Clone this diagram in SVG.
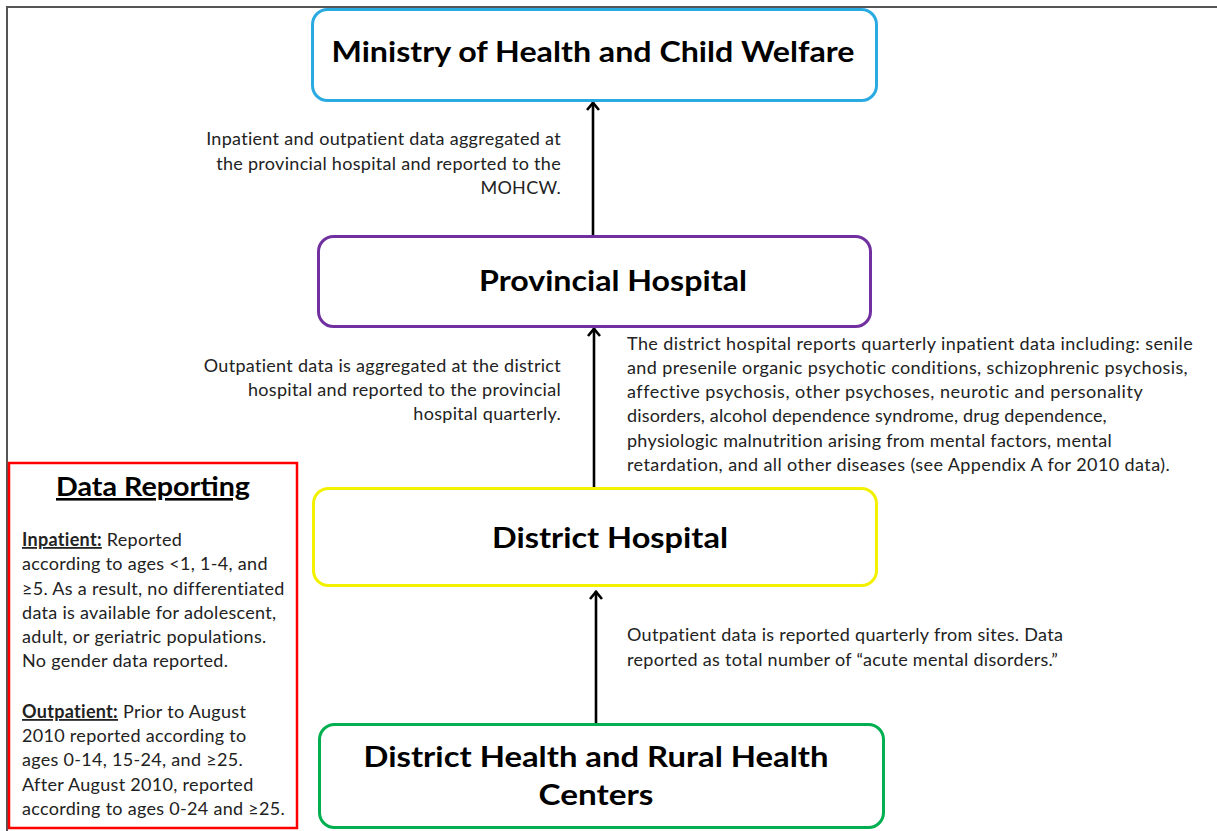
<svg xmlns="http://www.w3.org/2000/svg" width="1217" height="831" viewBox="0 0 1217 831">
<style>
.box{fill:#fff;stroke-width:3}
.ttl{font-family:Lato,"Open Sans","Liberation Sans",sans-serif;font-weight:bold;font-size:29px;fill:#000;text-anchor:middle}
.lbl{font-family:Lato,"Open Sans","Liberation Sans",sans-serif;font-size:18px;letter-spacing:0.3px;fill:#222}
.r{text-anchor:end}
.conn{stroke:#000;stroke-width:2.6;fill:none}
.b{font-weight:bold;text-decoration:underline}
</style>
<defs>
<marker id="ah" viewBox="-10 -8 12 16" refX="0" refY="0" markerWidth="12" markerHeight="16" markerUnits="userSpaceOnUse" orient="auto">
<path d="M-8,-6 L-0.8,0 L-8,6" fill="none" stroke="#000" stroke-width="2.6" stroke-linejoin="miter"/>
</marker>
</defs>
<rect width="1217" height="831" fill="#fff"/>
<path d="M7,831 V7 H1217" fill="none" stroke="#555" stroke-width="2"/>

<g id="connectors">
<line class="conn" x1="593" y1="235" x2="593" y2="102" marker-end="url(#ah)"/>
<line class="conn" x1="594" y1="487" x2="594" y2="328" marker-end="url(#ah)"/>
<line class="conn" x1="596" y1="723" x2="596" y2="591" marker-end="url(#ah)"/>
</g>

<g id="ministry">
<rect class="box" x="312.5" y="9.5" width="564" height="91" rx="15" stroke="#29abe2"/>
<text class="ttl" x="593" y="62" textLength="523" lengthAdjust="spacingAndGlyphs">Ministry of Health and Child Welfare</text>
</g>

<g id="provincial">
<rect class="box" x="318.5" y="236.5" width="552" height="90" rx="15" stroke="#7030a0"/>
<text class="ttl" x="613" y="291" textLength="268" lengthAdjust="spacingAndGlyphs">Provincial Hospital</text>
</g>

<g id="district">
<rect class="box" x="313.5" y="488.5" width="563" height="97" rx="15" stroke="#f2f200"/>
<text class="ttl" x="610" y="548" textLength="236" lengthAdjust="spacingAndGlyphs">District Hospital</text>
</g>

<g id="rural">
<rect class="box" x="319.5" y="724.5" width="564" height="103" rx="15" stroke="#00b050"/>
<text class="ttl" x="596" y="767" textLength="465" lengthAdjust="spacingAndGlyphs">District Health and Rural Health</text>
<text class="ttl" x="596" y="805" textLength="115" lengthAdjust="spacingAndGlyphs">Centers</text>
</g>

<g id="label-ministry">
<text class="lbl r" x="561" y="145">Inpatient and outpatient data aggregated at</text>
<text class="lbl r" x="561" y="170">the provincial hospital and reported to the</text>
<text class="lbl r" x="561" y="194">MOHCW.</text>
</g>

<g id="label-provincial">
<text class="lbl r" x="561" y="372">Outpatient data is aggregated at the district</text>
<text class="lbl r" x="561" y="396">hospital and reported to the provincial</text>
<text class="lbl r" x="561" y="420">hospital quarterly.</text>
</g>

<g id="label-inpatient">
<text class="lbl" x="627" y="350" textLength="566" lengthAdjust="spacing">The district hospital reports quarterly inpatient data including: senile</text>
<text class="lbl" x="627" y="374" textLength="561" lengthAdjust="spacing">and presenile organic psychotic conditions, schizophrenic psychosis,</text>
<text class="lbl" x="627" y="398" textLength="516" lengthAdjust="spacing">affective psychosis, other psychoses, neurotic and personality</text>
<text class="lbl" x="627" y="422" textLength="480" lengthAdjust="spacing">disorders, alcohol dependence syndrome, drug dependence,</text>
<text class="lbl" x="627" y="447" textLength="485" lengthAdjust="spacing">physiologic malnutrition arising from mental factors, mental</text>
<text class="lbl" x="627" y="471" textLength="543" lengthAdjust="spacing">retardation, and all other diseases (see Appendix A for 2010 data).</text>
</g>

<g id="label-rural">
<text class="lbl" x="627" y="641">Outpatient data is reported quarterly from sites. Data</text>
<text class="lbl" x="627" y="666">reported as total number of “acute mental disorders.”</text>
</g>

<g id="data-reporting">
<rect x="9" y="463" width="288" height="365" fill="#fff" stroke="#ff0000" stroke-width="2.5"/>
<text x="153" y="496" font-family="Lato,'Open Sans','Liberation Sans',sans-serif" font-size="26" font-weight="bold" text-anchor="middle" text-decoration="underline" fill="#000" textLength="194" lengthAdjust="spacingAndGlyphs">Data Reporting</text>
<text class="lbl" x="22" y="546"><tspan class="b">Inpatient:</tspan> Reported</text>
<text class="lbl" x="22" y="570">according to ages &lt;1, 1-4, and</text>
<text class="lbl" x="22" y="595">≥5. As a result, no differentiated</text>
<text class="lbl" x="22" y="619">data is available for adolescent,</text>
<text class="lbl" x="22" y="643">adult, or geriatric populations.</text>
<text class="lbl" x="22" y="667">No gender data reported.</text>
<text class="lbl" x="22" y="718"><tspan class="b">Outpatient:</tspan> Prior to August</text>
<text class="lbl" x="22" y="742">2010 reported according to</text>
<text class="lbl" x="22" y="766">ages 0-14, 15-24, and ≥25.</text>
<text class="lbl" x="22" y="791">After August 2010, reported</text>
<text class="lbl" x="22" y="815">according to ages 0-24 and ≥25.</text>
</g>
</svg>
